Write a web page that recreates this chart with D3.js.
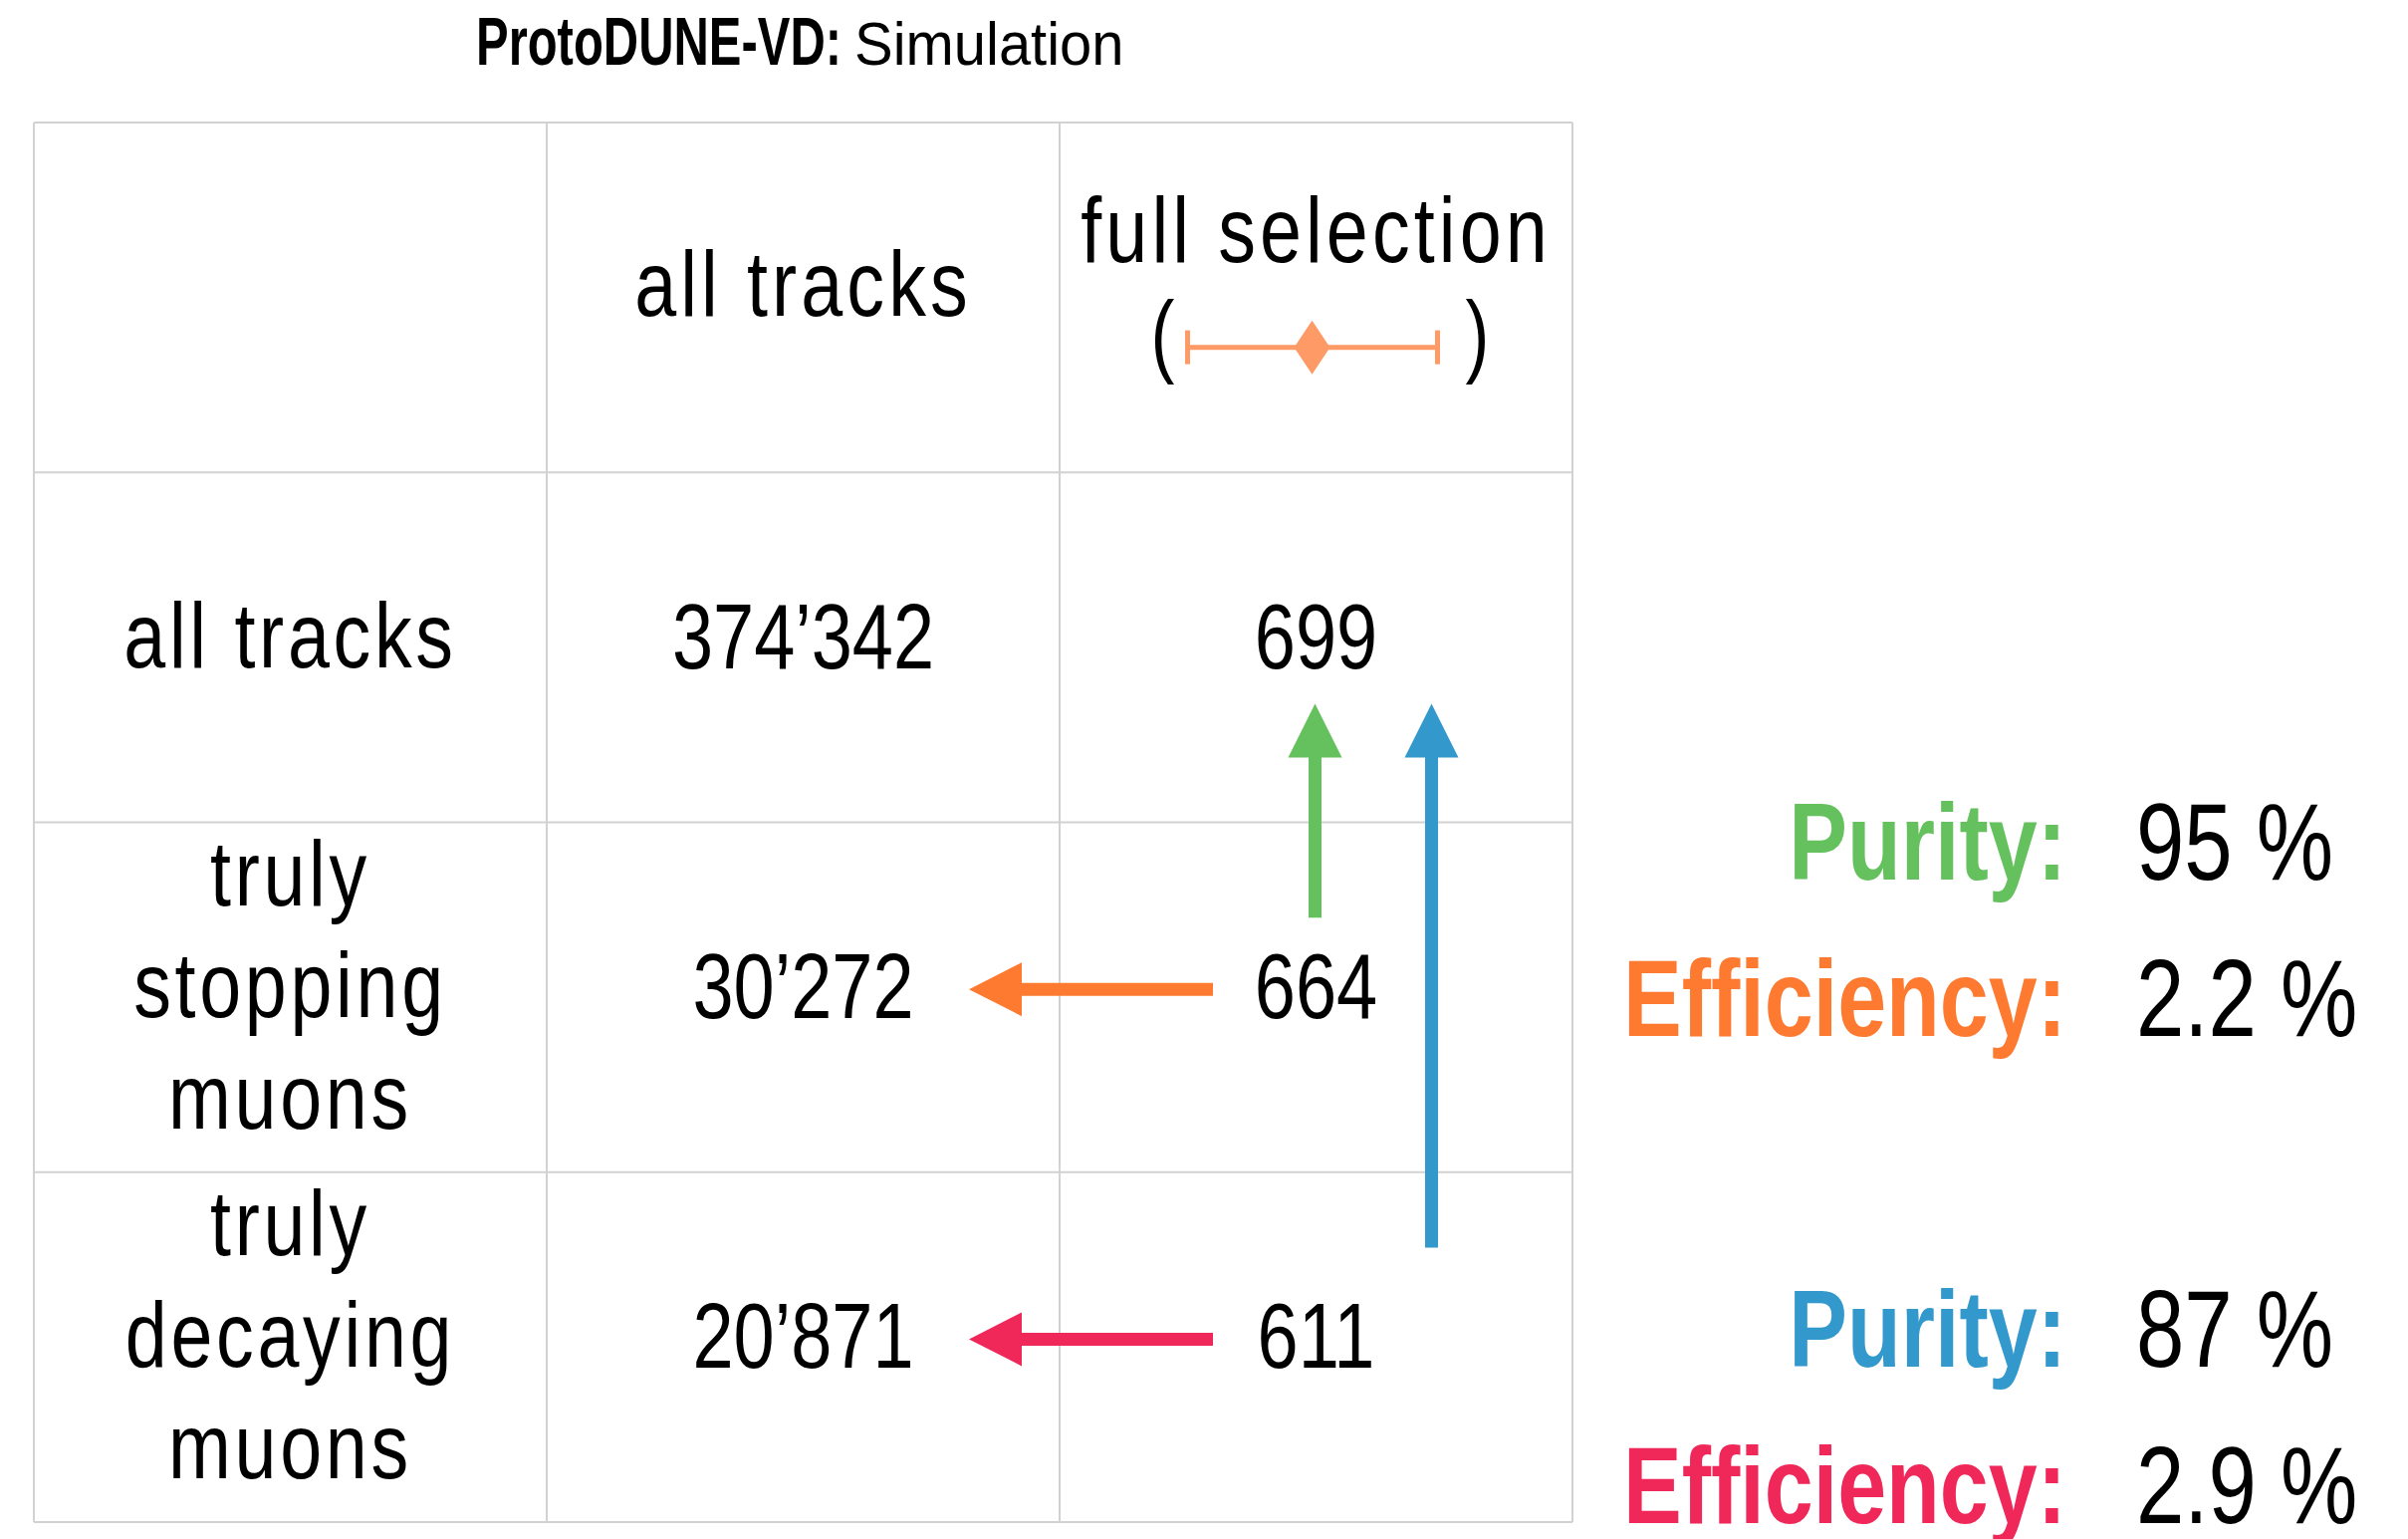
<!DOCTYPE html>
<html>
<head>
<meta charset="utf-8">
<script src="https://cdn.jsdelivr.net/npm/d3@7"></script>
<style>
  body { margin: 0; background: #fff; }
  text { font-family: "Liberation Sans", Arial, sans-serif; fill: #000; }
</style>
</head>
<body>
<svg width="2418" height="1545"></svg>
<script>
// table content
var columns = ["label", "all tracks", "full selection"];
var rows = ["header", "all", "stop", "decay"];
var rowLabels = [["all tracks"], ["truly", "stopping", "muons"], ["truly", "decaying", "muons"]];
var allTracks = [374342, 30272, 20871];
var fullSelection = [699, 664, 611];

// purity / efficiency summary
var metricLabels = ["Purity:", "Efficiency:", "Purity:", "Efficiency:"];
var metricValues = [95, 2.2, 87, 2.9];
var metricColors = ["#65c15d", "#fd7a30", "#3399cc", "#f0285a"];

// arrows between cells: [row, col] of body rows
var arrowLinks = [
  {from: [1, 2], to: [1, 1], color: "#fd7a30"},
  {from: [2, 2], to: [2, 1], color: "#f0285a"},
  {from: [1, 2], to: [0, 2], color: "#65c15d", lane: 0},
  {from: [2, 2], to: [0, 2], color: "#3399cc", lane: 1}
];

var svg = d3.select("svg"),
  width = +svg.attr("width"),
  height = +svg.attr("height");

svg.append("rect").attr("width", width).attr("height", height).attr("fill", "#fff");

var x = d3.scaleBand().domain(columns).range([34, 1579]);
var y = d3.scaleBand().domain(rows).range([123, 1528]);

var fmt = d3.formatLocale({decimal: ".", thousands: "\u2019", grouping: [3], currency: ["", ""]}).format(",d");

function xc(c) { return x(columns[c]) + x.bandwidth() / 2; }
function yc(r) { return y(rows[r + 1]) + y.bandwidth() / 2; }

// condensed look: squeeze the text horizontally around its anchor
function squeeze(px, py, sx) {
  return "translate(" + px + "," + py + ") scale(" + sx + ",1)";
}

// title
svg.append("text")
  .attr("transform", squeeze(478, 65, 0.72))
  .style("font-weight", "bold")
  .style("font-size", "68px")
  .text("ProtoDUNE-VD:");
svg.append("text")
  .attr("transform", squeeze(858, 65, 0.95))
  .style("font-size", "61px")
  .text("Simulation");

// grid
var grid = svg.append("g")
  .attr("fill", "none")
  .attr("stroke", "#d2d2d2")
  .attr("stroke-width", 2);

grid.selectAll(".vline")
  .data(columns.concat(["end"]))
  .enter().append("line")
  .attr("class", "vline")
  .attr("x1", function(d, i) { return i < columns.length ? x(d) : x.range()[1]; })
  .attr("x2", function(d, i) { return i < columns.length ? x(d) : x.range()[1]; })
  .attr("y1", y.range()[0])
  .attr("y2", y.range()[1]);

grid.selectAll(".hline")
  .data(rows.concat(["end"]))
  .enter().append("line")
  .attr("class", "hline")
  .attr("y1", function(d, i) { return i < rows.length ? y(d) : y.range()[1]; })
  .attr("y2", function(d, i) { return i < rows.length ? y(d) : y.range()[1]; })
  .attr("x1", x.range()[0])
  .attr("x2", x.range()[1]);

// header
var hy = y("header") + y.bandwidth() / 2;
svg.append("text")
  .attr("transform", squeeze(xc(1), hy + 18, 0.82))
  .attr("text-anchor", "middle")
  .style("font-size", "92px")
  .style("letter-spacing", "5px")
  .text(columns[1]);

svg.append("text")
  .attr("transform", squeeze(xc(2), hy - 36, 0.82))
  .attr("text-anchor", "middle")
  .style("font-size", "92px")
  .style("letter-spacing", "5px")
  .text(columns[2]);

// legend marker for full selection
var my = hy + 50;
var marker = svg.append("g").attr("stroke", "#fe9a66").attr("fill", "#fe9a66");
marker.append("line")
  .attr("x1", xc(2) - 129).attr("x2", xc(2) + 122)
  .attr("y1", my).attr("y2", my)
  .attr("stroke-width", 5);
marker.selectAll(".cap")
  .data([xc(2) - 129, xc(2) + 122])
  .enter().append("line")
  .attr("x1", function(d) { return d; }).attr("x2", function(d) { return d; })
  .attr("y1", my - 17).attr("y2", my + 17)
  .attr("stroke-width", 5);
marker.append("path")
  .attr("transform", "translate(" + (xc(2) - 4) + "," + my + ")")
  .attr("d", "M0,-27L18,0L0,27L-18,0Z")
  .attr("stroke", "none");

svg.append("text")
  .attr("transform", squeeze(xc(2) - 166, my + 18, 0.78))
  .style("font-size", "92px")
  .text("(");
svg.append("text")
  .attr("transform", squeeze(xc(2) + 174, my + 18, 0.78))
  .attr("text-anchor", "end")
  .style("font-size", "92px")
  .text(")");

// row labels
rowLabels.forEach(function(lines, r) {
  var n = lines.length;
  svg.append("g").selectAll("text")
    .data(lines)
    .enter().append("text")
    .attr("transform", function(d, i) {
      return squeeze(xc(0), yc(r) + 20 + (i - (n - 1) / 2) * 112, 0.82);
    })
    .attr("text-anchor", "middle")
    .style("font-size", "92px")
    .style("letter-spacing", "4.5px")
    .text(function(d) { return d; });
});

// cell values
svg.append("g").selectAll("text")
  .data(allTracks)
  .enter().append("text")
  .attr("transform", function(d, i) { return squeeze(xc(1), yc(i) + 21, 0.795); })
  .attr("text-anchor", "middle")
  .style("font-size", "93px")
  .text(function(d) { return fmt(d); });

svg.append("g").selectAll("text")
  .data(fullSelection)
  .enter().append("text")
  .attr("transform", function(d, i) { return squeeze(xc(2), yc(i) + 21, 0.795); })
  .attr("text-anchor", "middle")
  .style("font-size", "93px")
  .text(function(d) { return fmt(d); });

// arrows
function arrowPath(x1, y1, x2, y2, shaft, headLen, headHalf) {
  var dx = x2 - x1, dy = y2 - y1, len = Math.sqrt(dx * dx + dy * dy);
  var ux = dx / len, uy = dy / len, px = -uy, py = ux;
  var bx = x2 - ux * headLen, by = y2 - uy * headLen;
  var s = shaft / 2;
  var pts = [
    [x1 + px * s, y1 + py * s],
    [bx + px * s, by + py * s],
    [bx + px * headHalf, by + py * headHalf],
    [x2, y2],
    [bx - px * headHalf, by - py * headHalf],
    [bx - px * s, by - py * s],
    [x1 - px * s, y1 - py * s]
  ];
  return "M" + pts.map(function(p) { return p[0] + "," + p[1]; }).join("L") + "Z";
}

svg.append("g").selectAll("path")
  .data(arrowLinks)
  .enter().append("path")
  .attr("fill", function(d) { return d.color; })
  .attr("d", function(d) {
    var r0 = d.from[0], c0 = d.from[1], r1 = d.to[0], c1 = d.to[1];
    if (r0 === r1) {
      var ay = yc(r0) - 8;
      return arrowPath(x(columns[c0]) + 154, ay, x(columns[c1]) + x.bandwidth() - 91, ay, 13, 53, 27);
    }
    var ax = xc(c0) - 1 + d.lane * 117;
    var tail = d.lane ? yc(r0) - 100 : yc(r0) - 80;
    return arrowPath(ax, tail, ax, y(rows[r1 + 1]) + y.bandwidth() - 119, 13, 54, 27);
  });

// purity / efficiency
var metricTop = [y("stop") + 57, y("decay") + 195];
var metrics = svg.append("g").selectAll("g")
  .data(metricLabels)
  .enter().append("g")
  .attr("transform", function(d, i) {
    return "translate(0," + (metricTop[Math.floor(i / 2)] + (i % 2) * 157) + ")";
  });

metrics.append("text")
  .attr("transform", squeeze(2075, 0, 0.8))
  .attr("text-anchor", "end")
  .style("font-weight", "bold")
  .style("font-size", "110px")
  .style("fill", function(d, i) { return metricColors[i]; })
  .text(function(d) { return d; });

metrics.append("text")
  .attr("transform", squeeze(2145, 0, 0.79))
  .style("font-size", "110px")
  .text(function(d, i) { return metricValues[i] + " %"; });
</script>
</body>
</html>
